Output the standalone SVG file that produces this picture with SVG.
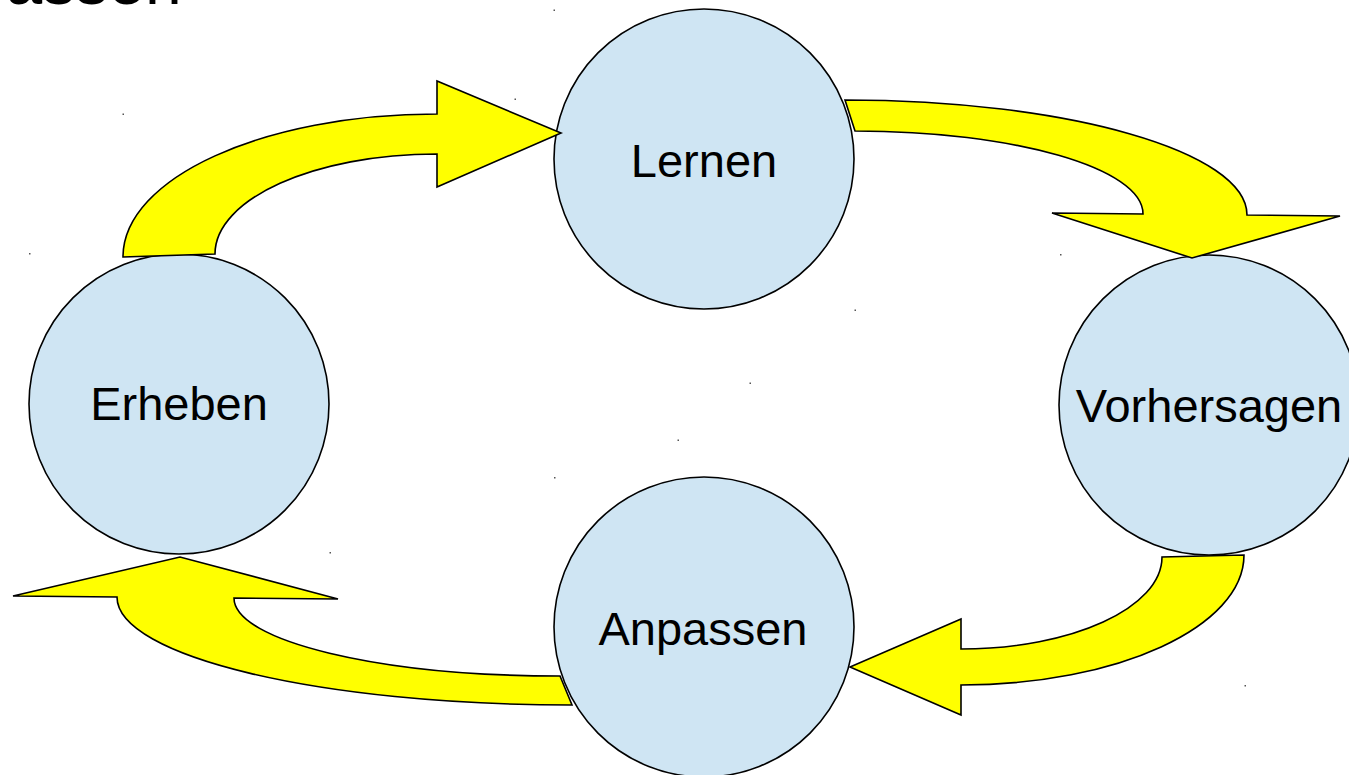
<svg xmlns="http://www.w3.org/2000/svg" width="1349" height="775" viewBox="0 0 1349 775">
  <style>
    .node circle { fill: #cfe5f3; stroke: #000; stroke-width: 1.6; }
    .label { font-family: "Liberation Sans", Arial, sans-serif; font-size: 47px; fill: #000; text-anchor: middle; }
    .arrow { fill: #ffff00; stroke: #000; stroke-width: 1.6; stroke-linejoin: miter; }
    .speck { fill: #555; }
  </style>

  <rect width="1349" height="775" fill="#fff"/>

  <!-- heading cut off at the top edge -->
  <text x="5.6" y="3.5" font-family="Liberation Sans, Arial, sans-serif" font-size="66" fill="#000">assen</text>

  <!-- stray specks -->
  <g id="specks">
    <rect class="speck" x="122.5" y="113.5" width="1.5" height="1.5"/>
    <rect class="speck" x="514.5" y="98.5" width="1.5" height="1.5"/>
    <rect class="speck" x="553.5" y="9.5" width="1.5" height="1.5"/>
    <rect class="speck" x="854.5" y="309.5" width="1.5" height="1.5"/>
    <rect class="speck" x="1060" y="254" width="1.5" height="1.5"/>
    <rect class="speck" x="1248.5" y="323.5" width="1.5" height="1.5"/>
    <rect class="speck" x="749.5" y="382.5" width="1.5" height="1.5"/>
    <rect class="speck" x="677.5" y="439.5" width="1.5" height="1.5"/>
    <rect class="speck" x="554" y="477" width="1.5" height="1.5"/>
    <rect class="speck" x="329.5" y="552" width="1.5" height="1.5"/>
    <rect class="speck" x="116.5" y="494.5" width="1.5" height="1.5"/>
    <rect class="speck" x="29" y="253" width="1.5" height="1.5"/>
    <rect class="speck" x="1244.5" y="685" width="1.5" height="1.5"/>
  </g>

  <g id="node-lernen" class="node">
    <circle cx="704" cy="159" r="150"/>
    <text class="label" x="704" y="177">Lernen</text>
  </g>
  <g id="node-erheben" class="node">
    <circle cx="179" cy="404" r="150"/>
    <text class="label" x="179" y="420">Erheben</text>
  </g>
  <g id="node-vorhersagen" class="node">
    <circle cx="1209" cy="405" r="150"/>
    <text class="label" x="1209" y="422">Vorhersagen</text>
  </g>
  <g id="node-anpassen" class="node">
    <circle cx="704" cy="627" r="150"/>
    <text class="label" x="703" y="645">Anpassen</text>
  </g>

  <!-- curved block arrows running round the cycle -->
  <g id="connectors">
    <!-- Erheben to Lernen -->
    <path class="arrow" d="M123,257 L215,254 C215,198.8 314.4,154 437,154 L437,187 L561,133 L437,81 L437,114 C263.6,114 123,178 123,257 Z"/>
    <!-- Lernen to Vorhersagen -->
    <path class="arrow" d="M845,100 C1067,100 1247,151.5 1247,215 L1340,216 L1192,258 L1052,213 L1143,214 C1143,168.2 1014,131 855,131 Z"/>
    <!-- Vorhersagen to Anpassen -->
    <path class="arrow" d="M1244,555 C1244,626.8 1117.3,685 961,685 L961,715 L850,667 L961,619 L961,649 C1072,649 1162,607.8 1162,557 Z"/>
    <!-- Anpassen to Erheben -->
    <path class="arrow" d="M572,705 C320.7,705 117,656.6 117,597 L13,596 L180,557 L338,599 L234,598 C234,641.1 380,676 560,676 Z"/>
  </g>
</svg>
